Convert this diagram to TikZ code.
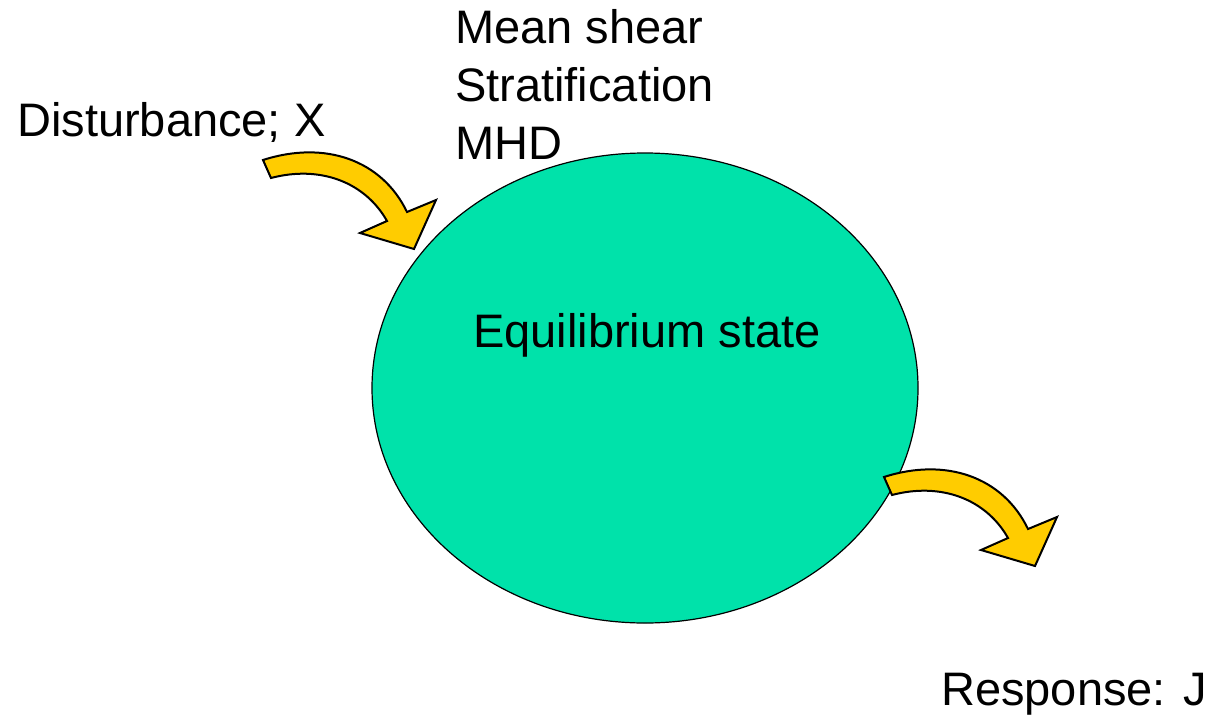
\documentclass[tikz,border=0pt]{standalone}
\usepackage{fontspec}
\setmainfont{Liberation Sans}
\usetikzlibrary{shapes.geometric}
\definecolor{eqgreen}{RGB}{0,226,170}
\definecolor{arrowyellow}{RGB}{255,204,0}
\tikzset{
  lbl/.style={anchor=base west, inner sep=0pt, font=\fontsize{47}{58}\selectfont},
  bigarrow/.style={fill=arrowyellow, draw=black, line width=2pt, line join=miter},
}
\begin{document}
\begin{tikzpicture}[x=1pt,y=-1pt]
\useasboundingbox (0,0) rectangle (1206,720);
% equilibrium ellipse
\node[ellipse, draw=black, line width=1.2pt, fill=eqgreen, minimum width=546pt, minimum height=470pt, inner sep=0pt] (eq) at (645,388) {};
\node[lbl] (eqtext) at (473,347) {Equilibrium state};
% labels
\node[lbl] (dist) at (17,136) {Disturbance; X};
\node[lbl] (shear) at (455,43) {Mean shear};
\node[lbl] (strat) at (455,101) {Stratification};
\node[lbl] (mhd) at (455,159) {MHD};
\node[lbl] (resp) at (941,705) {Response: J};
% curved block arrows
\begin{scope}
\draw[bigarrow] (263,160) .. controls (325,140) and (382,160) .. (407,212)
  -- (436,200) -- (414,249) -- (360,233) -- (387,221)
  .. controls (365,182) and (320,165) .. (271,178) -- cycle;
\end{scope}
\begin{scope}[shift={(621,317)}]
\draw[bigarrow] (263,160) .. controls (325,140) and (382,160) .. (407,212)
  -- (436,200) -- (414,249) -- (360,233) -- (387,221)
  .. controls (365,182) and (320,165) .. (271,178) -- cycle;
\end{scope}
\end{tikzpicture}
\end{document}
